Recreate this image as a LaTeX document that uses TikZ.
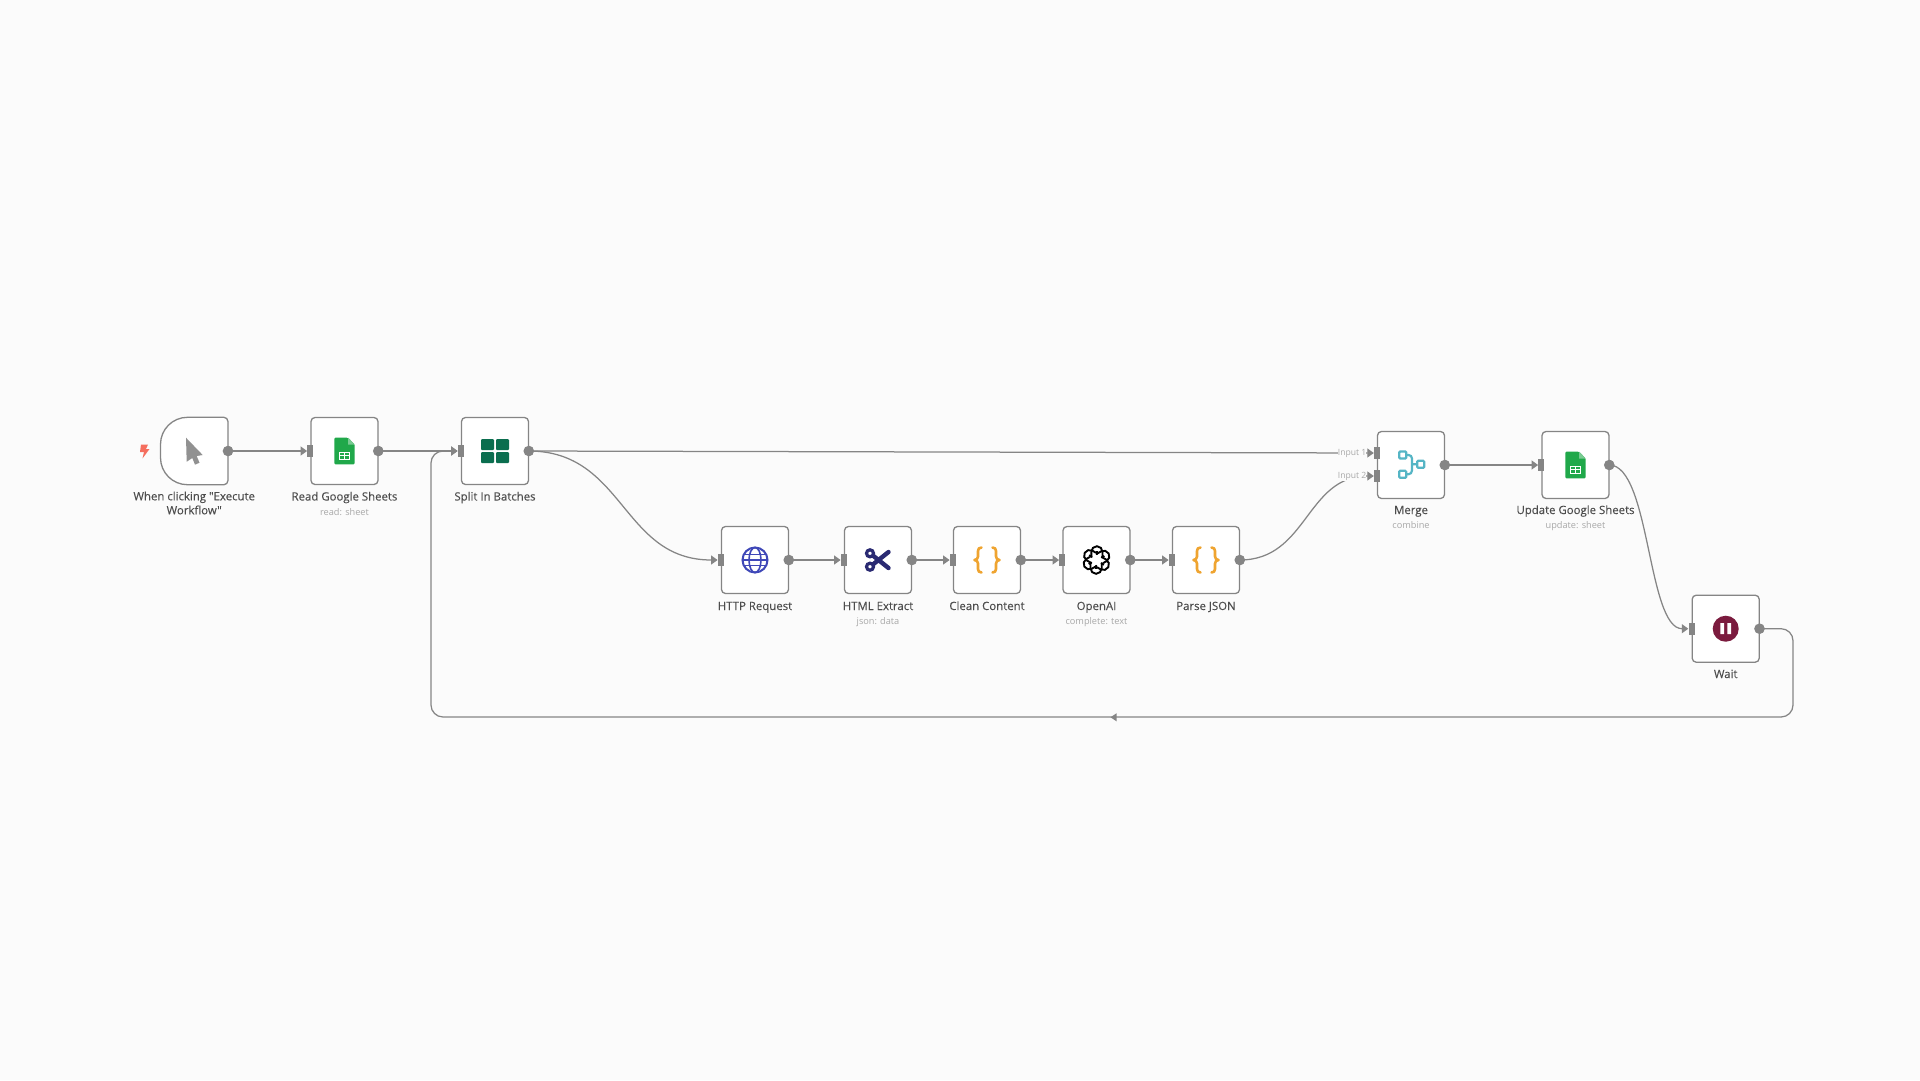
\documentclass[tikz,border=0pt]{standalone}
\usepackage{fontspec}
\newfontfamily\wffont[FakeBold=0.12]{Open Sans}
\newfontfamily\wfsub{Open Sans}
\usetikzlibrary{arrows.meta}
\definecolor{bgc}{HTML}{FBFBFB}
\definecolor{linec}{HTML}{858585}
\definecolor{txtc}{HTML}{4D4D4D}
\definecolor{subc}{HTML}{A8A8A8}
\definecolor{sheetc}{HTML}{20A84A}
\definecolor{splitc}{HTML}{0B6E4F}
\definecolor{globec}{HTML}{3F48B8}
\definecolor{scissc}{HTML}{2A2A72}
\definecolor{bracec}{HTML}{EFA430}
\definecolor{mergec}{HTML}{55B5C5}
\definecolor{waitc}{HTML}{7B1B3E}
\definecolor{boltc}{HTML}{F56E5E}
\tikzset{
  wfbox/.style={draw=linec,fill=white,line width=1.3pt,rounded corners=4pt,minimum size=67pt,inner sep=0pt},
  shellbox/.style={minimum size=67pt,inner sep=0pt},
  outdot/.style={circle,fill=linec,minimum size=10.5pt,inner sep=0pt},
  inport/.style={rectangle,fill=linec,minimum width=6pt,minimum height=12pt,inner sep=0pt},
  conn/.style={draw=linec,line width=1.25pt,-{Triangle[length=6.5pt,width=9pt,fill=linec]}},
  lab/.style={text=txtc,font=\wffont\fontsize{11.4}{14}\selectfont,align=center,inner sep=0pt},
  sublab/.style={text=subc,font=\wfsub\fontsize{9.2}{11}\selectfont,inner sep=0pt,anchor=base},
  inlab/.style={text=subc,font=\wfsub\fontsize{8.6}{10}\selectfont,fill=bgc,inner sep=0pt,anchor=east},
}
\newcommand{\sheeticon}[2]{%
  \begin{scope}[shift={(#1,#2)}]
    \fill[sheetc,rounded corners=1.2pt] (-10.2,-13.3) -- (3.5,-13.3) -- (10.2,-6.5) -- (10.2,13.3) -- (-10.2,13.3) -- cycle;
    \fill[sheetc!60!white] (3.5,-13.3) -- (10.2,-6.5) -- (3.5,-6.5) -- cycle;
    \draw[white,line width=.9pt] (-5,1) rectangle (5,8) (-5,4.5) -- (5,4.5) (0,1) -- (0,8);
  \end{scope}}
\newcommand{\braceicon}[2]{%
  \begin{scope}[shift={(#1,#2)}]
    \draw[bracec,line width=2.6pt,line cap=round,line join=round]
      (-5.5,-12.5) .. controls (-8,-12.5) and (-9,-11) .. (-9,-9) -- (-9,-3.5) .. controls (-9,-1.5) and (-10.5,0) .. (-12.5,0)
      .. controls (-10.5,0) and (-9,1.5) .. (-9,3.5) -- (-9,9) .. controls (-9,11) and (-8,12.5) .. (-5.5,12.5)
      (5.5,-12.5) .. controls (8,-12.5) and (9,-11) .. (9,-9) -- (9,-3.5) .. controls (9,-1.5) and (10.5,0) .. (12.5,0)
      .. controls (10.5,0) and (9,1.5) .. (9,3.5) -- (9,9) .. controls (9,11) and (8,12.5) .. (5.5,12.5);
  \end{scope}}
\begin{document}
\begin{tikzpicture}[x=1pt,y=-1pt]
\useasboundingbox (0,0) rectangle (1920,1080);
\fill[bgc] (0,0) rectangle (1920,1080);

% node shells first so that connectors can refer to them
\node[shellbox] (trig) at (194.2,451) {};
\node[shellbox] (read) at (344.5,451) {};
\node[shellbox] (split) at (495,451) {};
\node[shellbox] (http) at (755,560) {};
\node[shellbox] (html) at (878,560) {};
\node[shellbox] (clean) at (987,560) {};
\node[shellbox] (openai) at (1096.5,560) {};
\node[shellbox] (parse) at (1206,560) {};
\node[shellbox] (merge) at (1411,465) {};
\node[shellbox] (update) at (1575.5,465) {};
\node[shellbox] (wait) at (1725.7,628.7) {};

% ports
\foreach \n in {trig,read,split,http,html,clean,openai,parse,merge,update,wait}{
  \node[outdot] (\n O) at (\n.east) {};
}
\foreach \n in {read,split,http,html,clean,openai,parse,update,wait}{
  \node[inport] (\n I) at ([xshift=-.5pt]\n.west) {};
}
\node[inport] (mergeA) at (1377,453) {};
\node[inport] (mergeB) at (1377,476) {};
\coordinate (loopR) at (1793,717);
\coordinate (loopL) at (431,717);

% connectors
\draw[conn] (trigO.center) -- (readI.west);
\draw[conn] (readO.center) -- (splitI.west);
\draw[conn] (splitO.center) .. controls +(96,0) and +(-96,0) .. (httpI.west);
\draw[conn] (splitO.center) -- (mergeA.west);
\draw[conn] (httpO.center) -- (htmlI.west);
\draw[conn] (htmlO.center) -- (cleanI.west);
\draw[conn] (cleanO.center) -- (openaiI.west);
\draw[conn] (openaiO.center) -- (parseI.west);
\draw[conn] (parseO.center) .. controls +(68,0) and +(-68,0) .. (mergeB.west);
\draw[conn] (mergeO.center) -- (updateI.west);
\draw[conn] (updateO.center) .. controls +(41,0) and +(-41,0) .. (waitI.west);
\draw[conn,rounded corners=12pt] (waitO.center) -| (loopR) -- (loopL) |- (splitI.west);
\fill[linec] (1110.5,717.3) -- (1116.5,713.3) -- (1116.5,721.3) -- cycle;

% boxes
\draw[draw=linec,fill=white,line width=1.3pt]
  ([xshift=27pt]trig.north west) -- ([xshift=-4pt]trig.north east)
  arc[start angle=-90,end angle=0,radius=4]
  -- ([yshift=4pt]trig.south east)
  arc[start angle=0,end angle=90,radius=4]
  -- ([xshift=27pt]trig.south west)
  arc[start angle=90,end angle=180,radius=27]
  -- ([yshift=-27pt]trig.north west)
  arc[start angle=180,end angle=270,radius=27] -- cycle;
\foreach \n in {read,split,http,html,clean,openai,parse,merge,update,wait}{
  \node[wfbox] at (\n) {};
}
\foreach \n in {trig,read,split,http,html,clean,openai,parse,merge,update,wait}{
  \node[outdot] at (\n O) {};
}
\foreach \n in {read,split,http,html,clean,openai,parse,update,wait}{
  \node[inport] at (\n I) {};
}
\node[inport] at (mergeA) {};
\node[inport] at (mergeB) {};

% input labels
\node[inlab] (in1) at (1366.5,453.5) {Input 1};
\node[inlab] (in2) at (1366.5,476.5) {Input 2};

% bolt
\fill[boltc] (141,444.5) -- (148,444.5) -- (146,449) -- (149.5,449) -- (142.5,458.5) -- (144,452) -- (140,452) -- cycle;

% cursor
\fill[linec!90!white] (186,437.7) -- (202.7,455) -- (196.7,456) -- (199.5,462.7) -- (195,464.7) -- (192.3,458) -- (186.7,461.7) -- cycle;

% sheets
\sheeticon{344.5}{451}
\sheeticon{1575.5}{465}

% split
\foreach \a/\b in {481/439,496/439,481/452,496/452}{
  \fill[splitc,rounded corners=1pt] (\a,\b) rectangle ++(13,11);
}

% globe
\begin{scope}[shift={(755,560)}]
  \draw[globec,line width=2pt] (0,0) circle[radius=12.5];
  \draw[globec,line width=1.6pt] (0,0) ellipse[x radius=6,y radius=12.5];
  \draw[globec,line width=1.6pt] (-12.5,0) -- (12.5,0) (-11,-5.5) -- (11,-5.5) (-11,5.5) -- (11,5.5);
\end{scope}

% scissors
\begin{scope}[shift={(878,560)}]
  \draw[scissc,line width=3.2pt] (-8,-6.7) circle[radius=3.5] (-8,6.7) circle[radius=3.5];
  \draw[scissc,line width=4.4pt,line cap=round] (-4.5,-4) -- (10.5,8) (-4.5,4) -- (10.5,-8);
\end{scope}

% braces
\braceicon{987}{560}
\braceicon{1206}{560}

% openai knot
\begin{scope}[shift={(1096.5,560)}]
  \foreach \a in {0,60,...,300}{
    \draw[black,line width=1.9pt,rotate=\a]
      (-5.2,-2.5) -- (-5.2,-8.2) arc[start angle=180,end angle=360,radius=5.6] -- (6,-4.2)
      (0.4,-5.4) -- (0.4,-8.8);
  }
\end{scope}

% merge
\draw[mergec,line width=2.2pt,rounded corners=1pt]
  (1399.2,451.5) rectangle ++(7,7)
  (1399.2,470.8) rectangle ++(7,7)
  (1417.2,460.8) rectangle ++(7,7);
\draw[mergec,line width=2.2pt]
  (1406.2,455) -- (1408.5,455) .. controls (1410.5,455) and (1412,456.5) .. (1412,458.5) -- (1412,470.3) .. controls (1412,472.5) and (1410.5,474.3) .. (1408.5,474.3) -- (1406.2,474.3)
  (1412,464.3) -- (1417.2,464.3);

% wait
\fill[waitc] (1725.7,628.7) circle[radius=13];
\fill[white] (1720.3,623.2) rectangle ++(3.8,11) (1727.3,623.2) rectangle ++(3.8,11);

% labels
\node[lab] (l1) at (194.2,503) {When clicking "Execute\\Workflow"};
\node[lab,anchor=base] (l2) at (344.5,500.5) {Read Google Sheets};
\node[sublab] (s2) at (344.5,515) {read: sheet};
\node[lab,anchor=base] (l3) at (495,500.5) {Split In Batches};
\node[lab,anchor=base] (l4) at (755,610) {HTTP Request};
\node[lab,anchor=base] (l5) at (878,610) {HTML Extract};
\node[sublab] (s5) at (878,624.5) {json: data};
\node[lab,anchor=base] (l6) at (987,610) {Clean Content};
\node[lab,anchor=base] (l7) at (1096.5,610) {OpenAI};
\node[sublab] (s7) at (1096.5,624.5) {complete: text};
\node[lab,anchor=base] (l8) at (1206,610) {Parse JSON};
\node[lab,anchor=base] (l9) at (1411,514) {Merge};
\node[sublab] (s9) at (1411,528) {combine};
\node[lab,anchor=base] (l10) at (1575.5,514) {Update Google Sheets};
\node[sublab] (s10) at (1575.5,528) {update: sheet};
\node[lab,anchor=base] (l11) at (1725.7,678) {Wait};
\end{tikzpicture}
\end{document}
